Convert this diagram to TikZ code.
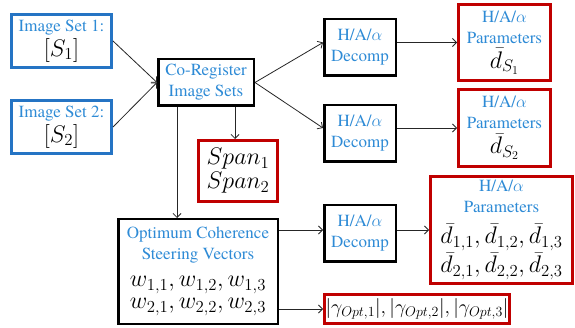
\documentclass[tikz,border=0pt]{standalone}
\usepackage{fix-cm}
\usepackage{fontspec}
\setmainfont{TeX Gyre Termes}
\usetikzlibrary{arrows.meta}
\definecolor{txtblue}{HTML}{2E8BD6}
\definecolor{edgeblue}{HTML}{2574C4}
\definecolor{edgered}{HTML}{C00000}
\newcommand{\mth}{\fontsize{24}{26}\selectfont}
\newcommand{\haa}{H/A/$\alpha$}
\begin{document}
\begin{tikzpicture}[x=1pt,y=-1pt,
  box/.style={draw, fill=white, inner sep=0pt, align=center, text=txtblue,
    font=\rmfamily\fontsize{17}{21}\selectfont},
  bluebox/.style={box, draw=edgeblue, line width=3pt},
  redbox/.style={box, draw=edgered, line width=3pt},
  blackbox/.style={box, draw=black, line width=2.5pt},
  arr/.style={draw=black!85, line width=0.8pt, -{Straight Barb[length=4pt,width=8pt]}}]
\useasboundingbox (0,0) rectangle (575,328);
\fill[white] (0,0) rectangle (575,328);

% input image sets
\node[bluebox, minimum width=100pt, minimum height=53pt] (set1) at (61.5,41)
  {Image Set 1:\\[2pt] {\mth\color{black}$[S_1]$}};
\node[bluebox, minimum width=100pt, minimum height=53pt] (set2) at (61.5,127)
  {Image Set 2:\\[2pt] {\mth\color{black}$[S_2]$}};

% registration
\node[blackbox, minimum width=95.5pt, minimum height=46.5pt] (coreg) at (206,82.5)
  {Co-Register\\Image Sets};
\node[redbox, minimum width=79pt, minimum height=61pt, text=black] (span) at (238,171)
  {\mth $Span_1$\\[2pt] \mth $Span_2$};

% decompositions
\node[blackbox, minimum width=71.5pt, minimum height=56.5pt] (d1) at (360,47.5)
  {\haa\\Decomp};
\node[blackbox, minimum width=71.5pt, minimum height=56.5pt] (d2) at (360,133.5)
  {\haa\\Decomp};
\node[blackbox, minimum width=71.5pt, minimum height=56.5pt] (d3) at (360,233.5)
  {\haa\\Decomp};

% parameter outputs
\node[redbox, minimum width=92pt, minimum height=76pt] (p1) at (504.5,42.5)
  {\haa\\Parameters\\[4pt] {\mth\color{black}$\bar{d}_{S_1}$}};
\node[redbox, minimum width=92pt, minimum height=77pt] (p2) at (504.5,128)
  {\haa\\Parameters\\[4pt] {\mth\color{black}$\bar{d}_{S_2}$}};

% optimum coherence
\node[blackbox, minimum width=159.5pt, minimum height=104.5pt] (opt) at (198,271.5)
  {Optimum Coherence\\Steering Vectors\\[6pt]
   {\mth\color{black}$w_{1,1}, w_{1,2}, w_{1,3}$}\\[1pt]
   {\mth\color{black}$w_{2,1}, w_{2,2}, w_{2,3}$}};
\node[redbox, minimum width=142pt, minimum height=107pt] (p3) at (501.5,230)
  {\haa\\Parameters\\[10pt]
   {\mth\color{black}$\bar{d}_{1,1}, \bar{d}_{1,2}, \bar{d}_{1,3}$}\\[1pt]
   {\mth\color{black}$\bar{d}_{2,1}, \bar{d}_{2,2}, \bar{d}_{2,3}$}};
\node[redbox, minimum width=185pt, minimum height=29pt, text=black,
  font=\fontsize{20}{24}\selectfont] (gam) at (417,309)
  {$|\gamma_{Opt,1}|, |\gamma_{Opt,2}|, |\gamma_{Opt,3}|$};

% connectors
\coordinate (xs) at (235,0);
\coordinate (xo) at (177,0);
\draw[arr] (set1.east) -- (coreg.west);
\draw[arr] (set2.east) -- (coreg.west);
\draw[arr] (coreg.east) -- (d1.west |- p1.west);
\draw[arr] (coreg.east) -- (d2.west |- p2.west);
\draw[arr] (d1.east |- p1.west) -- (p1.west);
\draw[arr] (d2.east |- p2.west) -- (p2.west);
\draw[arr] (coreg.south -| xs) -- (span.north -| xs);
\draw[arr] (coreg.south -| xo) -- (opt.north -| xo);
\draw[arr] (opt.east |- p3.west) -- (d3.west |- p3.west);
\draw[arr] (d3.east |- p3.west) -- (p3.west);
\draw[arr] (opt.east |- gam.west) -- (gam.west);
\end{tikzpicture}
\end{document}
